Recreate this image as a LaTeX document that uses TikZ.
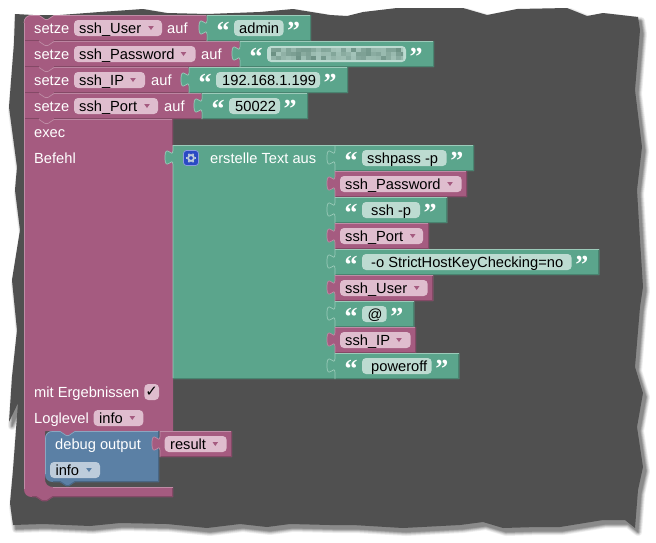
\documentclass[tikz,border=0pt]{standalone}
\usepackage{fontspec}
\setmainfont{Liberation Sans}
\newfontfamily\qfont{Liberation Serif}
\newfontfamily\symfont{DejaVu Sans}
\definecolor{vio}{HTML}{A55B80}
\definecolor{viodk}{HTML}{844966}
\definecolor{violt}{HTML}{C08CA6}
\definecolor{viofd}{HTML}{DFBDCE}
\definecolor{gre}{HTML}{5BA58C}
\definecolor{gredk}{HTML}{498470}
\definecolor{grelt}{HTML}{9CCBBA}
\definecolor{grefd}{HTML}{BDDBD1}
\definecolor{blu}{HTML}{5B80A5}
\definecolor{bludk}{HTML}{496684}
\definecolor{blult}{HTML}{8CA6C0}
\definecolor{blufd}{HTML}{BDCCDB}
\definecolor{paper}{HTML}{505050}
\definecolor{iconblue}{HTML}{2A4AC4}
\newcounter{nn}
\tikzset{
  lbl/.style={anchor=base west,inner sep=0pt,font=\fontsize{14.67}{16}\selectfont},
  qmark/.style={anchor=base west,inner sep=0pt,text=white,font=\qfont\bfseries\fontsize{26}{26}\selectfont},
  pillbox/.style={rounded corners=4pt},
}
\def\tornpath{(15,14) -- (33,15) -- (60,15) -- (100,12) -- (143,9) -- (167,13) -- (207,14) -- (260,12) -- (293,9) -- (330,15) -- (347,16) -- (363,12) -- (397,8) -- (463,8) -- (487,15) -- (517,9) -- (567,8) -- (587,16) -- (603,13) -- (638,17) -- (640,30) -- (635,90) -- (642,147) -- (637,190) -- (640,240) -- (643,287) -- (640,307) -- (635,367) -- (643,393) -- (637,427) -- (643,467) -- (638,490) -- (635,528) -- (625,520) -- (603,520) -- (560,527) -- (537,527) -- (503,528) -- (483,522) -- (460,525) -- (403,528) -- (353,525) -- (330,525) -- (290,524) -- (267,527) -- (240,524) -- (207,528) -- (167,524) -- (120,523) -- (90,526) -- (43,524) -- (13,525) -- (10,503) -- (13,470) -- (18,403) -- (9,422) -- (12,377) -- (17,330) -- (12,280) -- (20,230) -- (15,190) -- (17,167) -- (9,107) -- (14,43) -- cycle}
\newcommand{\txt}[4]{\stepcounter{nn}\node[lbl,text=#3] (n\arabic{nn}) at (#1,#2) {#4};}
% value block: x, y, xend, scheme
\newcommand{\valblk}[4]{%
  \pgfmathsetmacro\bw{#3-#1}%
  \begin{scope}[shift={(#1,#2)}]
    \fill[#4] (0,0) -- (\bw,0) -- (\bw,26) -- (0,26) -- (0,20) .. controls (0,10) and (-8,28) .. (-8,12.5) .. controls (-8,-3) and (0,15) .. (0,5) -- cycle;
    \draw[#4dk,line width=1pt] (\bw-.5,0) -- (\bw-.5,25.5) -- (0,25.5);
    \draw[#4lt,line width=.7pt] (0,.4) -- (\bw-.8,.4);
    \draw[#4lt,line width=.7pt] (0,26) -- (0,20) .. controls (0,10) and (-8,28) .. (-8,12.5) .. controls (-8,-3) and (0,15) .. (0,5) -- (0,0);
  \end{scope}}
% drop-down field: x0, x1, y0 (block top), textx, text, arrowx, scheme
\newcommand{\ddfield}[7]{%
  \fill[#7fd,pillbox] (#1,#3+5) rectangle (#2,#3+21);
  \fill[#7] (#6-2.8,#3+11) -- (#6+2.8,#3+11) -- (#6,#3+15) -- cycle;
  \txt{#4}{#3+18}{black}{#5}}
% string value block: g, y0, pillend, textx, text, blockend
\newcommand{\strval}[6]{%
  \valblk{#1}{#2}{#6}{gre}
  \quotes{#1}{#2}{#3}
  \fill[grefd,pillbox] (#1+27,#2+5) rectangle (#3,#2+21);
  \txt{#4}{#2+18}{black}{#5}}
\newcommand{\quotes}[3]{%
  \stepcounter{nn}\node[qmark] (n\arabic{nn}) at (#1+9.5,#2+24) {“};
  \stepcounter{nn}\node[qmark] (n\arabic{nn}) at (#3+3.5,#2+24) {”};}
% set row: y, xend
\newcommand{\setrow}[2]{%
  \fill[vio] (24,#1) -- (39,#1) -- (45,#1+4) -- (48,#1+4) -- (54,#1) -- (#2,#1) -- (#2,#1+26) -- (54,#1+26) -- (48,#1+30) -- (45,#1+30) -- (39,#1+26) -- (24,#1+26) -- cycle;
  \draw[viodk,line width=1pt] (#2-.5,#1) -- (#2-.5,#1+25.5) -- (54,#1+25.5);
  \draw[viodk,line width=1pt] (39,#1+25.5) -- (24,#1+25.5);
  \draw[violt,line width=.7pt] (39,#1+26.5) -- (45,#1+30.4) -- (48,#1+30.4) -- (54,#1+26.5);
  \draw[violt,line width=.5pt] (54,#1+.4) -- (#2-1,#1+.4);}
\begin{document}
\begin{tikzpicture}[x=1pt,y=-1pt]
\useasboundingbox (0,0) rectangle (656,542);
\fill[white] (0,0) rectangle (656,542);
% shadow of the torn sheet
\begin{scope}[shift={(3,4)}]
  \foreach \lw/\sh in {8/6,6.5/12,5/20,3.5/29,2/38,.5/46}{
    \filldraw[black!\sh,line width=\lw pt,line join=round] \tornpath;
  }
\end{scope}
\fill[paper] \tornpath;
% exec block
\fill[vio,line join=round] (24,119) -- (39,119) -- (45,123) -- (48,123) -- (54,119) -- (173,119) -- (173,431) -- (75,431) -- (69,435) -- (66,435) -- (60,431) -- (45,431) -- (45,479) .. controls (45,484) and (48,487) .. (53,487) -- (173,487) -- (173,497) -- (53,497) -- (47,501) -- (42,501) -- (36,497) -- (32,497) .. controls (27,497) and (24,494) .. (24,489) -- cycle;
\draw[viodk,line width=1pt] (172.5,487) -- (172.5,496.5) -- (53,496.5) -- (47,500.5) -- (42,500.5) -- (36,496.5) -- (32,496.5);
\draw[violt,line width=.7pt] (53,487.4) -- (172.5,487.4);
\draw[viodk,line width=.8pt] (172.5,119) -- (172.5,145);
\draw[violt,line width=.5pt] (54,119.4) -- (172,119.4);
% set rows, lowest first
\setrow{93}{202}
\setrow{67}{189}
\setrow{41}{240}
\fill[vio] (32,15) -- (39,15) -- (45,19) -- (48,19) -- (54,15) -- (207,15) -- (207,41) -- (54,41) -- (48,45) -- (45,45) -- (39,41) -- (24,41) -- (24,23) .. controls (24,18) and (27,15) .. (32,15) -- cycle;
\draw[viodk,line width=1pt] (206.5,15) -- (206.5,40.5) -- (54,40.5);
\draw[viodk,line width=1pt] (39,40.5) -- (24,40.5);
\draw[violt,line width=.7pt] (39,41.5) -- (45,45.4) -- (48,45.4) -- (54,41.5);
\draw[violt,line width=.7pt] (24,23) .. controls (24,18) and (27,15.4) .. (32,15.4) -- (39,15.4) -- (45,19.4) -- (48,19.4) -- (54,15.4) -- (206,15.4);
\draw[violt,line width=.5pt] (24.3,23) -- (24.3,489);
% set-row contents
\txt{34}{33}{white}{setze}
\ddfield{74}{162}{15}{79}{ssh\_User}{151}{vio}
\txt{167}{33}{white}{auf}
\txt{34}{59}{white}{setze}
\ddfield{74}{195.5}{41}{79}{ssh\_Password}{183.5}{vio}
\txt{201}{59}{white}{auf}
\txt{34}{85}{white}{setze}
\ddfield{74}{145}{67}{79}{ssh\_IP}{133}{vio}
\txt{151}{85}{white}{auf}
\txt{34}{111}{white}{setze}
\ddfield{74}{158}{93}{79}{ssh\_Port}{147}{vio}
\txt{164}{111}{white}{auf}
\strval{207}{15}{283.5}{239}{admin}{311}
% string with blurred content
\valblk{240}{41}{434}{gre}
\quotes{240}{41}{406}
\fill[grefd,pillbox] (267,46) rectangle (406,62);
\pgfmathsetseed{11}
\begin{scope}
  \clip (271,48) rectangle (403,60);
  \foreach \cx in {271,276,...,401}{
    \foreach \cy in {48,52,56}{
      \pgfmathsetmacro\shade{.15+.45*rnd}
      \fill[black!45!gre,opacity=\shade] (\cx,\cy) rectangle (\cx+5,\cy+4);
    }
  }
\end{scope}
\strval{189}{67}{320}{222}{192.168.1.199}{348}
\strval{202}{93}{280}{235}{50022}{308}
% exec labels
\txt{34}{137}{white}{exec}
\txt{34}{163}{white}{Befehl}
\txt{34}{397}{white}{mit Ergebnissen}
\fill[viofd,pillbox] (144.3,384) rectangle (159,400);
\stepcounter{nn}\node[anchor=center,inner sep=0pt,text=black,font=\symfont\fontsize{15}{15}\selectfont] (n\arabic{nn}) at (151.7,392) {✓};
\txt{34}{423}{white}{Loglevel}
\ddfield{93.7}{143.3}{405}{99}{info}{132.3}{vio}
% join block
\fill[gre] (173,145) -- (335,145) -- (335,379) -- (173,379) -- (173,165) .. controls (173,155) and (165,173) .. (165,157.5) .. controls (165,142) and (173,160) .. (173,150) -- cycle;
\draw[gredk,line width=1pt] (335,378.5) -- (173,378.5);
\draw[grelt,line width=.7pt] (173,378) -- (173,165) .. controls (173,155) and (165,173) .. (165,157.5) .. controls (165,142) and (173,160) .. (173,150) -- (173,145.4) -- (335,145.4);
\fill[iconblue,rounded corners=3pt,draw=iconblue!55!white,line width=.8pt] (183.5,150.5) rectangle (198.5,165.5);
\draw[blufd,line width=1.8pt] (191,158) circle (2.9pt);
\foreach \a in {0,60,...,300}{
  \draw[blufd,line width=1.6pt] (191,158) ++(\a:3.6pt) -- ++(\a:1.3pt);
}
\txt{210}{163}{white}{erstelle Text aus}
% join inputs
\strval{335}{145}{446.7}{367}{sshpass -p}{474}
\valblk{335}{171}{467}{vio}
\ddfield{340}{461.7}{171}{345}{ssh\_Password}{450}{vio}
\strval{335}{197}{420}{371}{ssh -p}{447.3}
\valblk{335}{223}{429}{vio}
\ddfield{340}{423}{223}{345}{ssh\_Port}{412.7}{vio}
\strval{335}{249}{571.7}{371}{-o StrictHostKeyChecking=no}{599.3}
\valblk{335}{275}{433.3}{vio}
\ddfield{340}{427.7}{275}{345}{ssh\_User}{416.7}{vio}
\strval{335}{301}{386.7}{367.3}{@}{414.3}
\valblk{335}{327}{416}{vio}
\ddfield{340}{410.7}{327}{345}{ssh\_IP}{399}{vio}
\strval{335}{353}{431.7}{371}{poweroff}{459.3}
% debug block
\fill[blu] (53,431) -- (60,431) -- (66,435) -- (69,435) -- (75,431) -- (159,431) -- (159,482) -- (75,482) -- (69,486) -- (66,486) -- (60,482) -- (53,482) .. controls (48,482) and (45,479) .. (45,474) -- (45,439) .. controls (45,434) and (48,431) .. (53,431) -- cycle;
\draw[bludk,line width=1pt] (158.5,431) -- (158.5,481.5) -- (75,481.5) -- (69,485.5) -- (66,485.5) -- (60,481.5) -- (53,481.5);
\draw[blult,line width=.7pt] (45.4,474) -- (45.4,439) .. controls (45.4,434) and (48,431.4) .. (53,431.4) -- (60,431.4) -- (66,435.4) -- (69,435.4) -- (75,431.4) -- (158,431.4);
\txt{55}{449}{white}{debug output}
\ddfield{50}{100}{457}{55.3}{info}{89}{blu}
\valblk{160}{431}{232}{vio}
\ddfield{164.7}{226.7}{431}{170}{result}{215.3}{vio}
\end{tikzpicture}
\end{document}
